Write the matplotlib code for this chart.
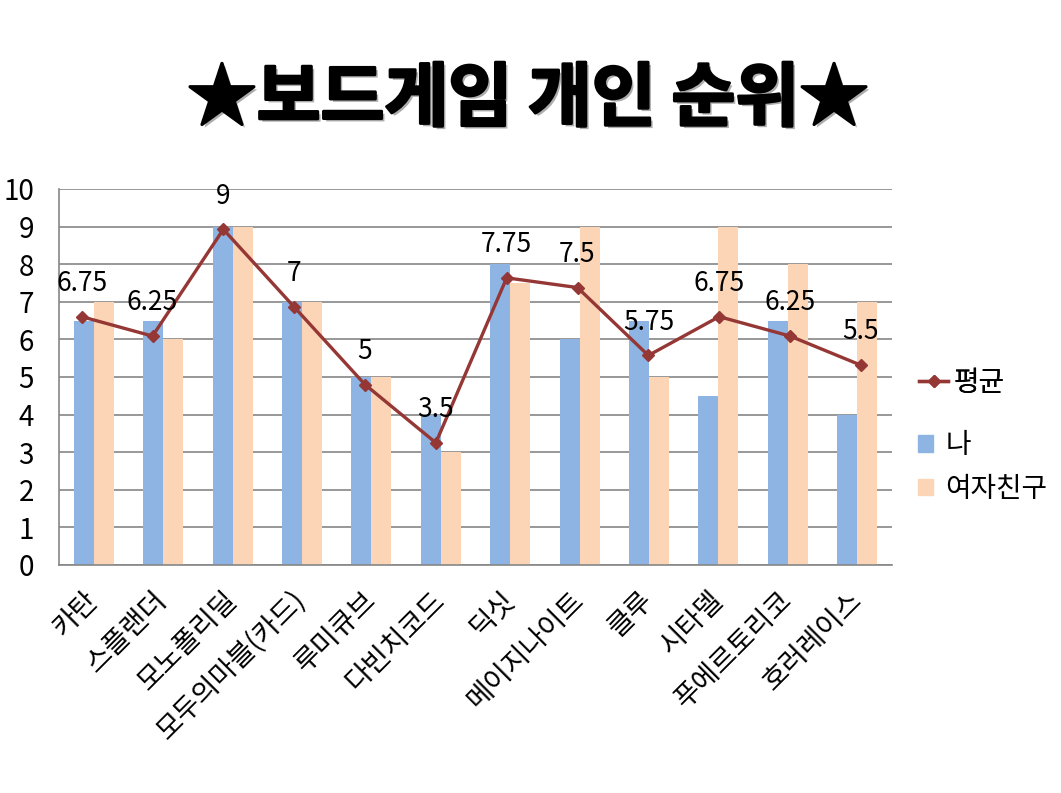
import matplotlib
matplotlib.use("Agg")
import matplotlib.pyplot as plt
import matplotlib.patheffects as pe
from matplotlib.lines import Line2D
from matplotlib.patches import Patch
import numpy as np

plt.rcParams['font.family'] = ['Noto Sans CJK KR', 'DejaVu Sans']

categories = ["카탄", "스플랜더", "모노폴리딜", "모두의마블(카드)", "루미큐브", "다빈치코드",
              "딕싯", "메이지나이트", "클루", "시타델", "푸에르토리코", "호러레이스"]
me = [6.5, 6.5, 9, 7, 5, 4, 8, 6, 6.5, 4.5, 6.5, 4]
girlfriend = [7, 6, 9, 7, 5, 3, 7.5, 9, 5, 9, 8, 7]
average = [6.75, 6.25, 9, 7, 5, 3.5, 7.75, 7.5, 5.75, 6.75, 6.25, 5.5]
avg_labels = ["6.75", "6.25", "9", "7", "5", "3.5", "7.75", "7.5", "5.75", "6.75", "6.25", "5.5"]
yticks = list(range(0, 11))

BLUE = "#8EB4E3"
PEACH = "#FBD5B5"
RED = "#953735"
GRID = "#868686"

fig = plt.figure(figsize=(10.61, 7.93), dpi=100)
ax = fig.add_axes([59/1061, 1-565/793, (892-59)/1061, (565-189)/793])

x = np.arange(len(categories))
w = 0.288
ax.bar(x - w/2, me, width=w, color=BLUE, label="나", zorder=2)
ax.bar(x + w/2, girlfriend, width=w, color=PEACH, label="여자친구", zorder=2)
ax.set_xlim(-0.5, len(categories) - 0.5)
ax.set_ylim(0, 10)
ax.set_yticks(yticks)
ax.set_yticklabels([str(t) for t in yticks], fontsize=20)
ax.yaxis.grid(True, color=GRID, lw=1.2, zorder=0)
ax.set_axisbelow(True)
for s in ["top", "right"]:
    ax.spines[s].set_visible(False)
for s in ["left", "bottom"]:
    ax.spines[s].set_color(GRID)
    ax.spines[s].set_linewidth(1.2)
ax.tick_params(axis='y', length=0, pad=18)
ax.tick_params(axis='x', length=0, pad=22)
ax.set_xticks(x)
ax.set_xticklabels(categories, fontsize=20, rotation=45, ha='right', va='center',
                   rotation_mode='anchor')

# line on secondary axes (as in the source chart)
ax2 = fig.add_axes(ax.get_position(), frameon=False)
ax2.set_xlim(-0.32, 11.44)
ax2.set_ylim(0.35, 10.04)
ax2.set_xticks([])
ax2.set_yticks([])
ax2.plot(x, average, color=RED, lw=2.4, marker='D', markersize=6.5, label="평균", zorder=3)
for xi, yi, lab in zip(x, average, avg_labels):
    ax2.annotate(lab, (xi, yi), xytext=(0, 24), textcoords='offset points',
                 ha='center', va='center', fontsize=19)

# legends
leg1 = fig.legend(handles=[Line2D([0], [0], color=RED, lw=2.4, marker='D', markersize=6.5)],
                  labels=["평균"], loc='center left', bbox_to_anchor=(919/1061, 1-383/793),
                  frameon=False, fontsize=20, borderpad=0, borderaxespad=0,
                  handlelength=1.05, handletextpad=0.18)
leg2 = fig.legend(handles=[Patch(color=BLUE), Patch(color=PEACH)], labels=["나", "여자친구"],
                  loc='center left', bbox_to_anchor=(918/1061, 1-467/793),
                  frameon=False, fontsize=20, borderpad=0, borderaxespad=0,
                  handlelength=0.55, handleheight=0.55, handletextpad=0.43, labelspacing=0.5)
fig.add_artist(leg1)

fig.text(528/1061, 1-100/793, "★보드게임 개인 순위★", ha='center', va='center',
         fontsize=50, fontweight='black', color='black',
         path_effects=[pe.withSimplePatchShadow(offset=(2, -2), shadow_rgbFace='#999999', alpha=0.8),
                       pe.Stroke(linewidth=2, foreground='black'), pe.Normal()])

fig.savefig("out.png", dpi=100)
